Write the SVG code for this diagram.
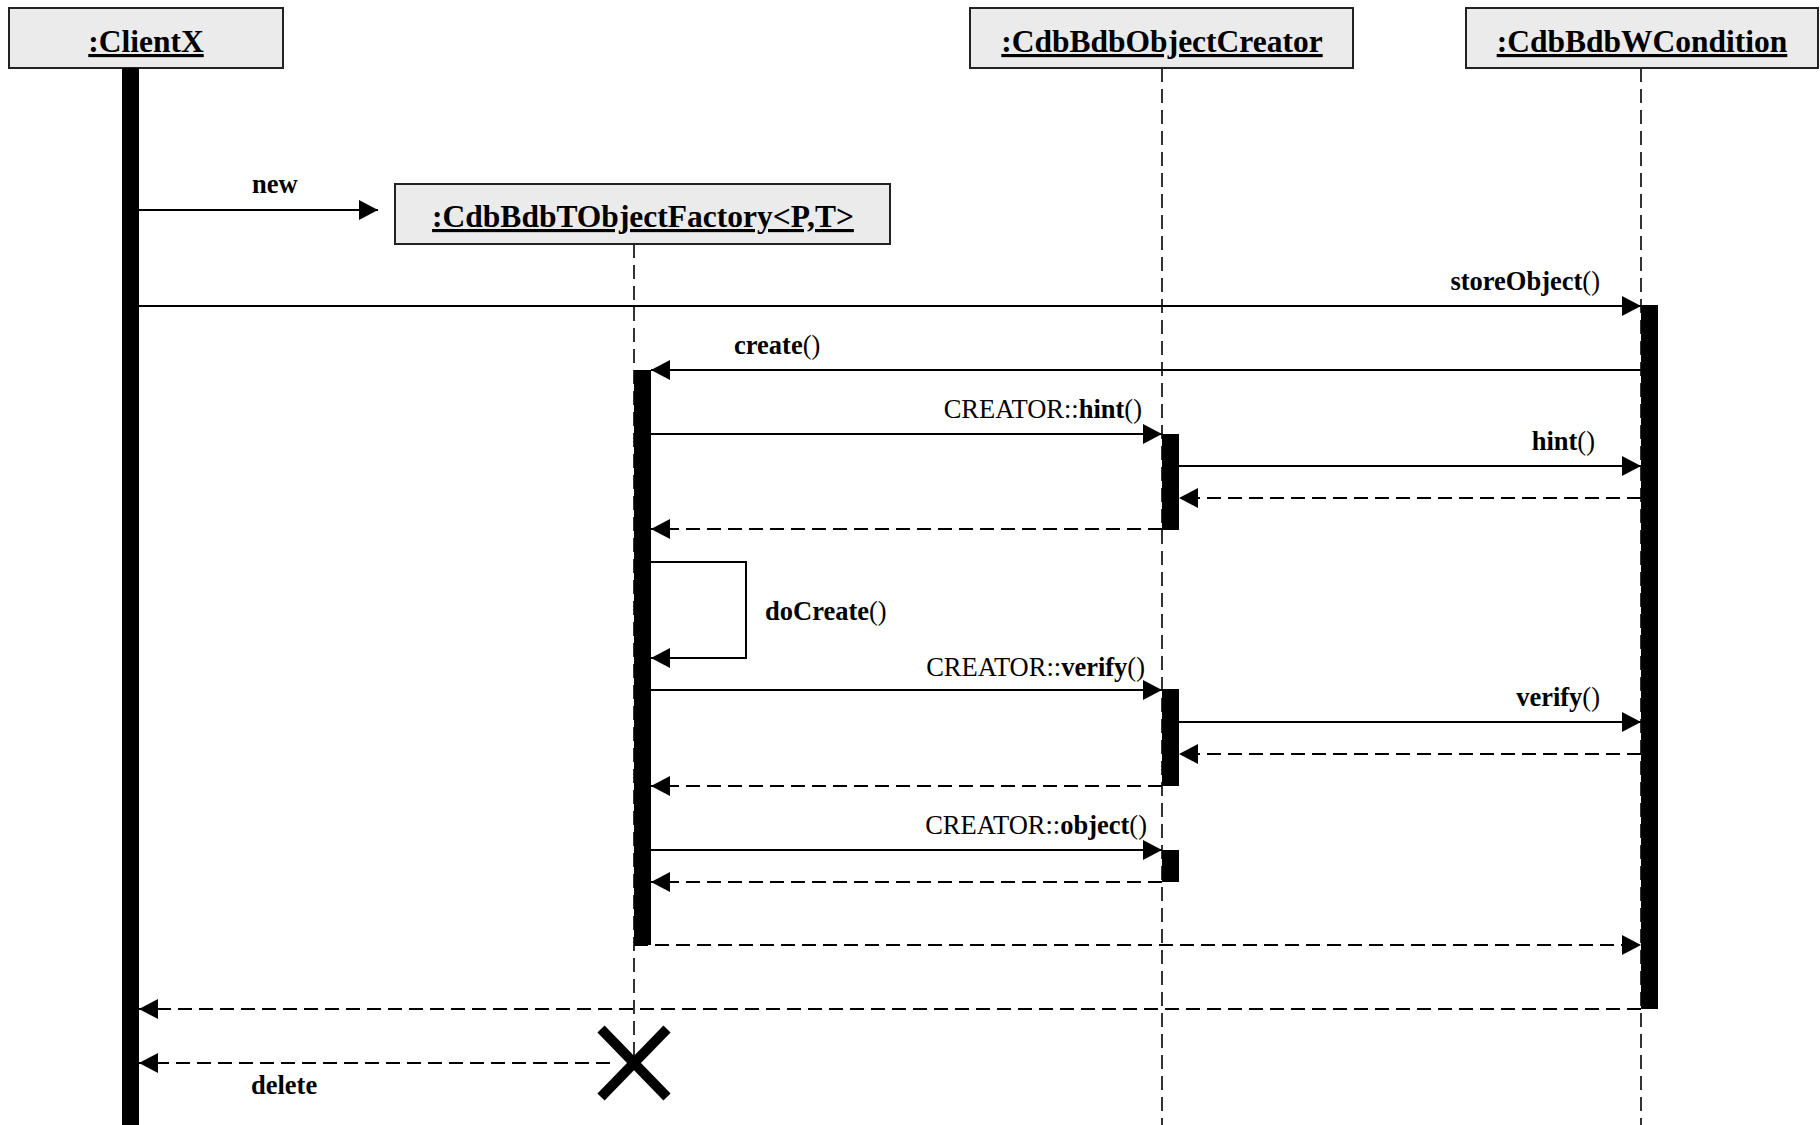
<svg xmlns="http://www.w3.org/2000/svg" width="1820" height="1125" viewBox="0 0 1820 1125">
<style>
.box{fill:#ebebeb;stroke:#222;stroke-width:2}
.hdr{font-family:"Liberation Serif","Times New Roman",serif;font-weight:bold;font-size:31.5px;text-anchor:middle;text-decoration:underline}
.lbl{font-family:"Liberation Serif","Times New Roman",serif;font-size:26.5px;fill:#000}
.b{font-weight:bold}
.life{stroke:#000;stroke-width:1.6;stroke-dasharray:14 7;fill:none}
.bar{fill:#000}
.msg{stroke:#000;stroke-width:2;fill:none;marker-end:url(#arr)}
.ret{stroke:#000;stroke-width:2;fill:none;stroke-dasharray:14 7;marker-end:url(#arr)}
</style>
<defs>
<marker id="arr" viewBox="0 0 19 20" refX="19" refY="10" markerWidth="19" markerHeight="20" markerUnits="userSpaceOnUse" orient="auto">
<path d="M0,0 L19,10 L0,20 z" fill="#000"/>
</marker>
</defs>
<rect width="1820" height="1125" fill="#fff"/>

<g id="clientx">
<rect class="box" x="9" y="8" width="274" height="60"/>
<text class="hdr" x="146" y="52">:ClientX</text>
<rect class="bar" x="122" y="68" width="17" height="1057"/>
</g>

<g id="factory">
<line class="life" x1="634" y1="244" x2="634" y2="1063"/>
<rect class="box" x="395" y="184" width="495" height="60"/>
<text class="hdr" x="643" y="227">:CdbBdbTObjectFactory&lt;P,T&gt;</text>
<rect class="bar" x="634" y="370" width="17" height="575"/>
<path d="M601,1029 L667,1097 M667,1029 L601,1097" stroke="#000" stroke-width="10" fill="none"/>
</g>

<g id="creator">
<line class="life" x1="1162" y1="68" x2="1162" y2="1125"/>
<rect class="box" x="970" y="8" width="383" height="60"/>
<text class="hdr" x="1162" y="52">:CdbBdbObjectCreator</text>
<rect class="bar" x="1162" y="434" width="17" height="96"/>
<rect class="bar" x="1162" y="689" width="17" height="97"/>
<rect class="bar" x="1162" y="850" width="17" height="32"/>
</g>

<g id="wcondition">
<line class="life" x1="1641" y1="68" x2="1641" y2="1125"/>
<rect class="box" x="1466" y="8" width="352" height="60"/>
<text class="hdr" x="1642" y="52">:CdbBdbWCondition</text>
<rect class="bar" x="1641" y="305" width="17" height="704"/>
</g>

<g id="connectors">
<line class="msg" x1="139" y1="210" x2="378" y2="210"/>
<text class="lbl b" x="252" y="193">new</text>

<line class="msg" x1="139" y1="306" x2="1641" y2="306"/>
<text class="lbl" x="1600" y="290" text-anchor="end"><tspan class="b">storeObject</tspan>()</text>

<line class="msg" x1="1641" y1="370" x2="651" y2="370"/>
<text class="lbl" x="734" y="354"><tspan class="b">create</tspan>()</text>

<line class="msg" x1="651" y1="434" x2="1162" y2="434"/>
<text class="lbl" x="1142" y="418" text-anchor="end">CREATOR::<tspan class="b">hint</tspan>()</text>

<line class="msg" x1="1179" y1="466" x2="1641" y2="466"/>
<text class="lbl" x="1595" y="450" text-anchor="end"><tspan class="b">hint</tspan>()</text>

<line class="ret" x1="1641" y1="498" x2="1179" y2="498"/>
<line class="ret" x1="1162" y1="529" x2="651" y2="529"/>

<polyline class="msg" points="651,562 746,562 746,658 651,658"/>
<text class="lbl" x="765" y="620"><tspan class="b">doCreate</tspan>()</text>

<line class="msg" x1="651" y1="690" x2="1162" y2="690"/>
<text class="lbl" x="1145" y="676" text-anchor="end">CREATOR::<tspan class="b">verify</tspan>()</text>

<line class="msg" x1="1179" y1="722" x2="1641" y2="722"/>
<text class="lbl" x="1600" y="706" text-anchor="end"><tspan class="b">verify</tspan>()</text>

<line class="ret" x1="1641" y1="754" x2="1179" y2="754"/>
<line class="ret" x1="1162" y1="786" x2="651" y2="786"/>

<line class="msg" x1="651" y1="850" x2="1162" y2="850"/>
<text class="lbl" x="1147" y="834" text-anchor="end">CREATOR::<tspan class="b">object</tspan>()</text>

<line class="ret" x1="1162" y1="882" x2="651" y2="882"/>

<line class="ret" x1="634" y1="945" x2="1641" y2="945"/>

<line class="ret" x1="1641" y1="1009" x2="139" y2="1009"/>

<line class="ret" x1="610" y1="1063" x2="139" y2="1063"/>
<text class="lbl b" x="251" y="1094">delete</text>
</g>
</svg>
